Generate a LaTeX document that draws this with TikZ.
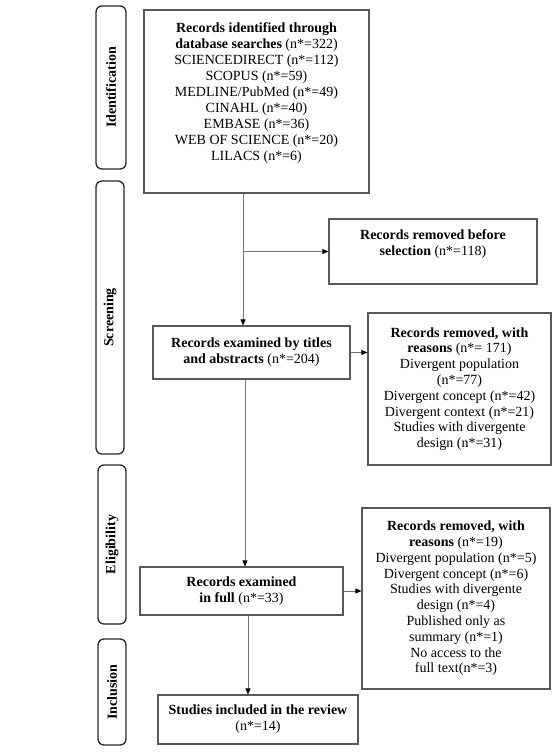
\documentclass[tikz,border=0pt]{standalone}
\usepackage{fontspec}
\setmainfont{Liberation Serif}
\usetikzlibrary{arrows.meta}

\begin{document}
\begin{tikzpicture}[x=1pt,y=-1pt,
  box/.style={draw=black!65, line width=1.1pt, align=center, inner sep=0pt,
    font=\fontsize{14}{15.8}\selectfont},
  phase/.style={draw=black!85, line width=1.3pt, rounded corners=6pt, inner sep=0pt,
    rotate=90, font=\fontsize{14}{16}\selectfont\bfseries},
  arr/.style={draw=black!55, line width=0.8pt, -{Triangle[length=6pt,width=5pt,color=black]}}]
  \useasboundingbox (0,0) rectangle (560,753);

  % phases on the left
  \node[phase, minimum width=163pt, minimum height=30pt] (identification) at (111,87.5) {Identification};
  \node[phase, minimum width=273pt, minimum height=28pt] (screening) at (110,317.5) {Screening};
  \node[phase, minimum width=159pt, minimum height=28pt] (eligibility) at (112,544.5) {Eligibility};
  \node[phase, minimum width=106pt, minimum height=28pt] (inclusion) at (112,692) {Inclusion};

  % boxes
  \node[box, minimum width=225pt, minimum height=183pt, text depth=20pt,
    font=\fontsize{14}{16}\selectfont] (records) at (256.5,101.5)
    {\textbf{Records identified through}\\
     \textbf{database searches} (n*=322)\\
     SCIENCEDIRECT (n*=112)\\
     SCOPUS (n*=59)\\
     MEDLINE/PubMed (n*=49)\\
     CINAHL (n*=40)\\
     EMBASE (n*=36)\\
     WEB OF SCIENCE (n*=20)\\
     LILACS (n*=6)};
  \node[box, minimum width=208pt, minimum height=65pt, text depth=18pt] (before) at (433,251.5)
    {\textbf{Records removed before}\\ \textbf{selection} (n*=118)};
  \node[box, minimum width=197pt, minimum height=53pt] (titles) at (251.5,352.5)
    {\textbf{Records examined by titles}\\ \textbf{and abstracts} (n*=204)};
  \node[box, minimum width=183pt, minimum height=152pt] (reasons1) at (459.5,389)
    {\textbf{Records removed, with}\\
     \textbf{reasons} (n*= 171)\\
     Divergent population\\
     (n*=77)\\
     Divergent concept (n*=42)\\
     Divergent context (n*=21)\\
     Studies with divergente\\
     design (n*=31)};
  \node[box, minimum width=203pt, minimum height=48pt] (full) at (241.5,591)
    {\textbf{Records examined}\\ \textbf{in full} (n*=33)};
  \node[box, minimum width=188pt, minimum height=181pt] (reasons2) at (456,598.5)
    {\textbf{Records removed, with}\\
     \textbf{reasons} (n*=19)\\
     Divergent population (n*=5)\\
     Divergent concept (n*=6)\\
     Studies with divergente\\
     design (n*=4)\\
     Published only as\\
     summary (n*=1)\\
     No access to the\\
     full text(n*=3)};
  \node[box, minimum width=200pt, minimum height=49pt] (included) at (258,719.5)
    {\textbf{Studies included in the review}\\ (n*=14)};

  % arrows
  \coordinate (c1) at (243,0);
  \coordinate (c2) at (245,0);
  \coordinate (c3) at (248,0);
  \draw[arr] (records.south -| c1) -- (titles.north -| c1);
  \draw[arr] (c1 |- before.west) -- (before.west);
  \draw[arr] (titles.east) -- (titles.east -| reasons1.west);
  \draw[arr] (titles.south -| c2) -- (full.north -| c2);
  \draw[arr] (full.east) -- (full.east -| reasons2.west);
  \draw[arr] (full.south -| c3) -- (included.north -| c3);
\end{tikzpicture}
\end{document}
